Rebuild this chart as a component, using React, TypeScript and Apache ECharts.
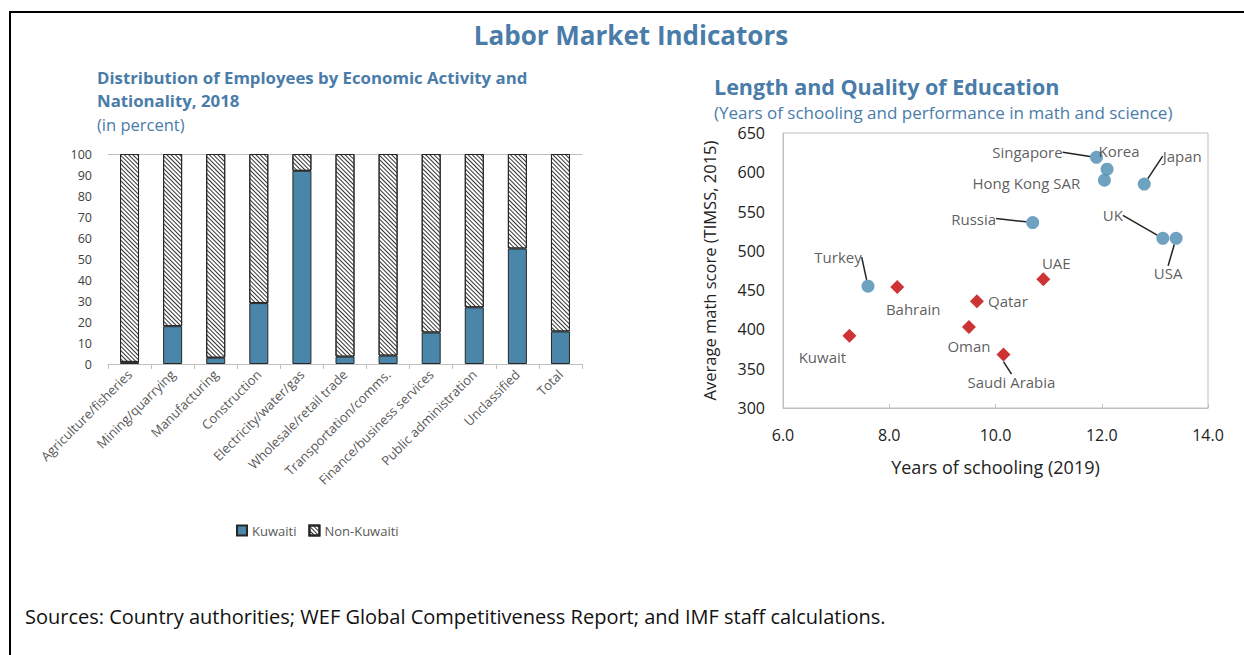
import React, { useEffect, useRef } from "react";
import * as echarts from "echarts";

// ---- Left chart data ----
const categories = [
  "Agriculture/fisheries",
  "Mining/quarrying",
  "Manufacturing",
  "Construction",
  "Electricity/water/gas",
  "Wholesale/retail trade",
  "Transportation/comms.",
  "Finance/business services",
  "Public administration",
  "Unclassified",
  "Total",
];
const kuwaiti = [1, 18, 3, 29, 92, 3.5, 4, 15, 27, 55, 15.5];
const nonKuwaiti = [99, 82, 97, 71, 8, 96.5, 96, 85, 73, 45, 84.5];

// ---- Right chart data ----
const comparatorNames = ["Singapore", "Korea", "Hong Kong SAR", "Japan", "Russia", "UK", "USA", "Turkey"];
const comparatorYears = [11.9, 12.1, 12.05, 12.8, 10.7, 13.15, 13.4, 7.6];
const comparatorScores = [619, 604, 590, 585, 536, 516, 516, 455];

const gccNames = ["Bahrain", "Qatar", "UAE", "Oman", "Saudi Arabia", "Kuwait"];
const gccYears = [8.15, 9.65, 10.9, 9.5, 10.15, 7.25];
const gccScores = [454, 436, 464, 403, 368, 392];

// label placement (layout only): [dx, dy, showLine]
const labelPlacement: Record<string, [number, number, boolean]> = {
  Singapore: [-69, -5, true],
  Korea: [12, -18, false],
  "Hong Kong SAR": [-78, 3, false],
  Japan: [38, -28, true],
  Russia: [-59, -4, true],
  UK: [-50, -23, true],
  USA: [-8, 35, true],
  Turkey: [-30, -29, true],
  Bahrain: [16, 22, false],
  Qatar: [31, 0, false],
  UAE: [13, -16, false],
  Oman: [0, 19, false],
  "Saudi Arabia": [8, 27, true],
  Kuwait: [-27, 21, false],
};

const FONT = '"Open Sans", "Noto Sans", sans-serif';
const TITLE_BLUE = "#4a7ca9";

function buildPoints(names: string[], xs: number[], ys: number[]) {
  return names.map((n, i) => ({
    name: n,
    value: [xs[i], ys[i]],
    labelLine: { show: labelPlacement[n][2] },
  }));
}

export default function App() {
  const ref = useRef<HTMLDivElement>(null);
  useEffect(() => {
    if (!ref.current) return;
    const chart = echarts.init(ref.current, null, { renderer: "svg" });

    const labelLayout = (params: any) => {
      const p = labelPlacement[params.text] || [0, 0, false];
      return { dx: p[0], dy: p[1] };
    };

    const scatterLabel = {
      show: true,
      position: "inside",
      formatter: "{b}",
      color: "#333",
      fontSize: 15,
      fontFamily: FONT,
      align: "center",
      verticalAlign: "middle",
    };

    chart.setOption({
      animation: false,
      backgroundColor: "#fff",
      textStyle: { fontFamily: FONT },
      graphic: [
        {
          type: "rect",
          shape: { x: 10, y: 12, width: 1245, height: 660 },
          style: { fill: "none", stroke: "#000", lineWidth: 2 },
          silent: true,
        },
        {
          type: "text",
          x: 631,
          y: 35,
          style: {
            text: "Labor Market Indicators",
            font: `bold 26px ${FONT}`,
            fill: TITLE_BLUE,
            align: "center",
            verticalAlign: "middle",
          },
        },
        {
          type: "text",
          x: 97,
          y: 77,
          style: {
            text: "Distribution of Employees by Economic Activity and",
            font: `bold 16.8px ${FONT}`,
            fill: TITLE_BLUE,
            align: "left",
            verticalAlign: "middle",
          },
        },
        {
          type: "text",
          x: 97,
          y: 100,
          style: {
            text: "Nationality, 2018",
            font: `bold 16.8px ${FONT}`,
            fill: TITLE_BLUE,
            align: "left",
            verticalAlign: "middle",
          },
        },
        {
          type: "text",
          x: 97,
          y: 124,
          style: {
            text: "(in percent)",
            font: `16.5px ${FONT}`,
            fill: TITLE_BLUE,
            align: "left",
            verticalAlign: "middle",
          },
        },
        {
          type: "text",
          x: 714,
          y: 86,
          style: {
            text: "Length and Quality of Education",
            font: `bold 21.5px ${FONT}`,
            fill: TITLE_BLUE,
            align: "left",
            verticalAlign: "middle",
          },
        },
        {
          type: "text",
          x: 714,
          y: 112,
          style: {
            text: "(Years of schooling and performance in math and science)",
            font: `17px ${FONT}`,
            fill: TITLE_BLUE,
            align: "left",
            verticalAlign: "middle",
          },
        },
        {
          type: "text",
          x: 25,
          y: 616,
          style: {
            text: "Sources: Country authorities; WEF Global Competitiveness Report; and IMF staff calculations.",
            font: `20px ${FONT}`,
            fill: "#111",
            align: "left",
            verticalAlign: "middle",
          },
        },
      ],
      legend: {
        data: ["Kuwaiti", "Non-Kuwaiti"],
        left: 231,
        top: 519,
        icon: "rect",
        itemWidth: 10,
        itemHeight: 10,
        itemGap: 12,
        textStyle: { fontSize: 13, color: "#595959", fontFamily: FONT },
      },
      grid: [
        { left: 108, right: 662, top: 154, bottom: 291, containLabel: false },
        {
          left: 783,
          right: 36,
          top: 133,
          bottom: 247,
          containLabel: false,
          show: true,
          borderColor: "#bfbfbf",
          borderWidth: 1,
        },
      ],
      xAxis: [
        {
          type: "category",
          gridIndex: 0,
          data: categories,
          axisLine: { show: true, lineStyle: { color: "#bfbfbf" } },
          axisTick: { show: true, length: 5, lineStyle: { color: "#bfbfbf" } },
          axisLabel: {
            interval: 0,
            rotate: 45,
            fontSize: 13,
            color: "#595959",
            margin: 8,
            fontFamily: FONT,
          },
        },
        {
          type: "category",
          gridIndex: 0,
          position: "top",
          data: categories,
          axisLine: { show: true, lineStyle: { color: "#bfbfbf" } },
          axisTick: { show: false },
          axisLabel: { show: false },
        },
        {
          type: "value",
          gridIndex: 1,
          min: 6,
          max: 14,
          interval: 2,
          axisLine: { show: true, lineStyle: { color: "#bfbfbf" } },
          axisTick: { show: true, inside: true, length: 4, lineStyle: { color: "#bfbfbf" } },
          splitLine: { show: false },
          axisLabel: {
            formatter: (v: number) => v.toFixed(1),
            fontSize: 16,
            color: "#222",
            margin: 19,
            fontFamily: FONT,
          },
          name: "Years of schooling (2019)",
          nameLocation: "middle",
          nameGap: 50,
          nameTextStyle: { fontSize: 18, color: "#222", fontFamily: FONT },
        },
      ],
      yAxis: [
        {
          type: "value",
          gridIndex: 0,
          min: 0,
          max: 100,
          interval: 10,
          axisLine: { show: false },
          axisTick: { show: false },
          splitLine: { show: false },
          axisLabel: { fontSize: 12.5, color: "#404040", margin: 16, fontFamily: FONT },
        },
        {
          type: "value",
          gridIndex: 1,
          min: 300,
          max: 650,
          interval: 50,
          axisLine: { show: true, lineStyle: { color: "#bfbfbf" } },
          axisTick: { show: false },
          splitLine: { show: false },
          axisLabel: { fontSize: 16, color: "#222", margin: 18, fontFamily: FONT },
          name: "Average math score (TIMSS, 2015)",
          nameLocation: "middle",
          nameGap: 65,
          nameTextStyle: { fontSize: 16.5, color: "#222", fontFamily: FONT },
        },
      ],
      series: [
        {
          name: "Kuwaiti",
          type: "bar",
          xAxisIndex: 0,
          yAxisIndex: 0,
          stack: "total",
          barWidth: 19,
          data: kuwaiti,
          itemStyle: { color: "#4a86aa", borderColor: "#262626", borderWidth: 1 },
        },
        {
          name: "Non-Kuwaiti",
          type: "bar",
          xAxisIndex: 0,
          yAxisIndex: 0,
          stack: "total",
          barWidth: 19,
          data: nonKuwaiti,
          itemStyle: {
            color: "#ffffff",
            borderColor: "#262626",
            borderWidth: 1,
            decal: {
              symbol: "rect",
              symbolSize: 1,
              color: "#333",
              backgroundColor: "#ffffff",
              dashArrayX: [1, 0],
              dashArrayY: [1, 1.8],
              rotation: Math.PI / 4,
            },
          },
        },
        {
          name: "Comparators",
          type: "scatter",
          xAxisIndex: 2,
          yAxisIndex: 1,
          symbol: "circle",
          symbolSize: 13,
          itemStyle: { color: "#4a8bb0" },
          data: buildPoints(comparatorNames, comparatorYears, comparatorScores),
          label: scatterLabel,
          labelLine: { show: true, lineStyle: { color: "#222", width: 1.5 } },
          labelLayout,
        },
        {
          name: "GCC",
          type: "scatter",
          xAxisIndex: 2,
          yAxisIndex: 1,
          symbol: "diamond",
          symbolSize: 14,
          itemStyle: { color: "#c00000" },
          data: buildPoints(gccNames, gccYears, gccScores),
          label: scatterLabel,
          labelLine: { show: true, lineStyle: { color: "#222", width: 1.5 } },
          labelLayout,
        },
      ],
    });
    return () => chart.dispose();
  }, []);
  return (
    <div
      ref={ref}
      style={{ position: "fixed", left: 0, top: 0, width: 1244, height: 655, background: "#fff" }}
    />
  );
}
